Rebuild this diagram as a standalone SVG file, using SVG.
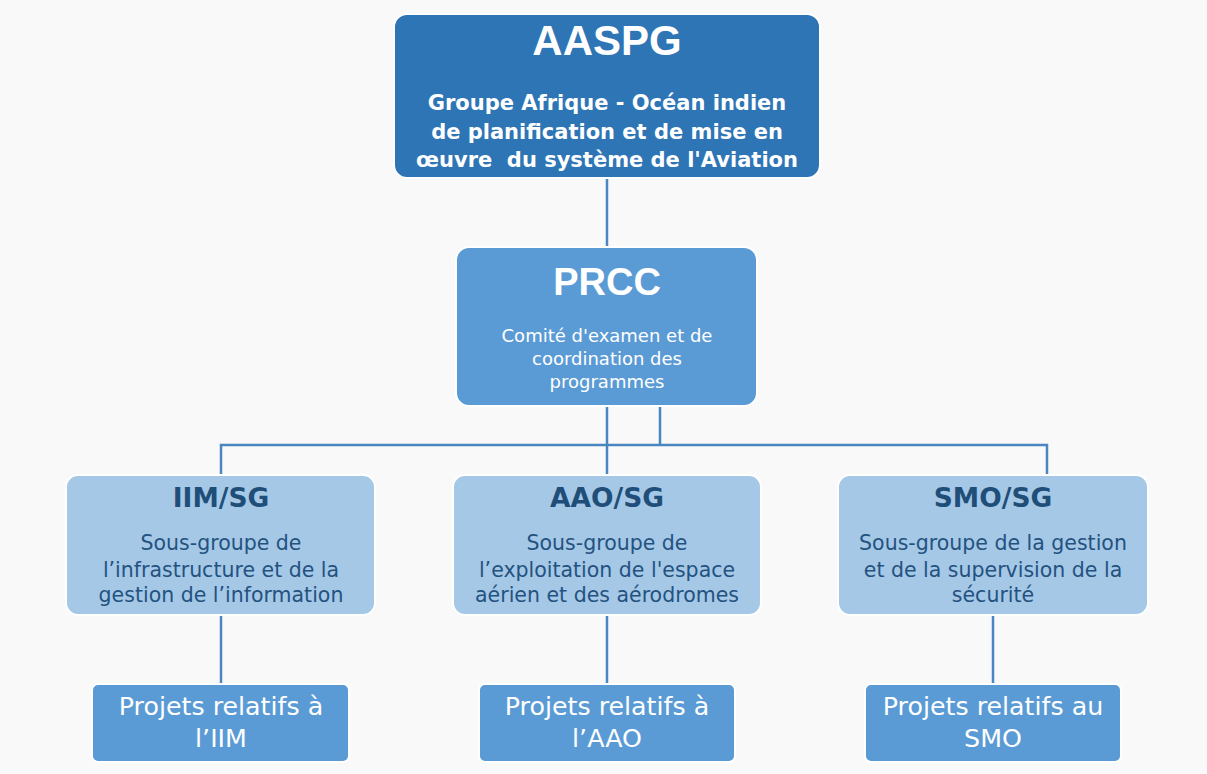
<svg xmlns="http://www.w3.org/2000/svg" width="1207" height="774" viewBox="0 0 1207 774">
<style>
.bg{fill:#f9f9f9}
.n1{fill:#2e75b6;stroke:#ffffff;stroke-width:2}
.n2{fill:#5b9bd5;stroke:#ffffff;stroke-width:2}
.n3{fill:#a5c8e7;stroke:#ffffff;stroke-width:2}
.conn{stroke:#4a86c0;stroke-width:2.5;fill:none}
text{font-family:"DejaVu Sans","Open Sans",sans-serif;text-anchor:middle}
.t1{font-family:"Liberation Sans",Arial,sans-serif;font-size:42px;font-weight:bold;fill:#ffffff}
.s1{font-size:21px;font-weight:bold;fill:#ffffff}
.t2{font-family:"Liberation Sans",Arial,sans-serif;font-size:38px;font-weight:bold;fill:#ffffff}
.s2{font-size:18px;fill:#ffffff}
.t3{font-size:26.5px;font-weight:bold;fill:#1f4e79}
.s3{font-size:20.5px;fill:#24527f}
.p{font-size:25.3px;fill:#ffffff}
</style>
<rect class="bg" x="0" y="0" width="1207" height="774"/>
<g id="connectors">
<line class="conn" x1="607" y1="178" x2="607" y2="247"/>
<line class="conn" x1="607" y1="406" x2="607" y2="475"/>
<line class="conn" x1="660" y1="406" x2="660" y2="445"/>
<polyline class="conn" points="221,475 221,445 1047,445 1047,475"/>
<line class="conn" x1="221" y1="615" x2="221" y2="684"/>
<line class="conn" x1="607" y1="615" x2="607" y2="684"/>
<line class="conn" x1="993" y1="615" x2="993" y2="684"/>
</g>
<g id="aaspg">
<rect class="n1" x="394" y="14" width="426" height="164" rx="13"/>
<text class="t1" x="607" y="55">AASPG</text>
<text class="s1" x="607" y="110">Groupe Afrique - Océan indien</text>
<text class="s1" x="607" y="139">de planification et de mise en</text>
<text class="s1" x="607" y="167" xml:space="preserve">œuvre  du système de l'Aviation</text>
</g>
<g id="prcc">
<rect class="n2" x="456" y="247" width="301" height="159" rx="13"/>
<text class="t2" x="607" y="295">PRCC</text>
<text class="s2" x="607" y="342">Comité d'examen et de</text>
<text class="s2" x="607" y="365">coordination des</text>
<text class="s2" x="607" y="388">programmes</text>
</g>
<g id="iim-sg">
<rect class="n3" x="66" y="475" width="309" height="140" rx="12"/>
<text class="t3" x="221" y="507">IIM/SG</text>
<text class="s3" x="221" y="550">Sous-groupe de</text>
<text class="s3" x="221" y="577">l’infrastructure et de la</text>
<text class="s3" x="221" y="602">gestion de l’information</text>
</g>
<g id="aao-sg">
<rect class="n3" x="453" y="475" width="308" height="140" rx="12"/>
<text class="t3" x="607" y="507">AAO/SG</text>
<text class="s3" x="607" y="550">Sous-groupe de</text>
<text class="s3" x="607" y="577">l’exploitation de l'espace</text>
<text class="s3" x="607" y="602">aérien et des aérodromes</text>
</g>
<g id="smo-sg">
<rect class="n3" x="838" y="475" width="310" height="140" rx="12"/>
<text class="t3" x="993" y="507">SMO/SG</text>
<text class="s3" x="993" y="550">Sous-groupe de la gestion</text>
<text class="s3" x="993" y="577">et de la supervision de la</text>
<text class="s3" x="993" y="602">sécurité</text>
</g>
<g id="proj-iim">
<rect class="n2" x="92" y="684" width="257" height="78" rx="6"/>
<text class="p" x="221" y="715">Projets relatifs à</text>
<text class="p" x="221" y="747">l’IIM</text>
</g>
<g id="proj-aao">
<rect class="n2" x="479" y="684" width="256" height="78" rx="6"/>
<text class="p" x="607" y="715">Projets relatifs à</text>
<text class="p" x="607" y="747">l’AAO</text>
</g>
<g id="proj-smo">
<rect class="n2" x="865" y="684" width="256" height="78" rx="6"/>
<text class="p" x="993" y="715">Projets relatifs au</text>
<text class="p" x="993" y="747">SMO</text>
</g>
</svg>
